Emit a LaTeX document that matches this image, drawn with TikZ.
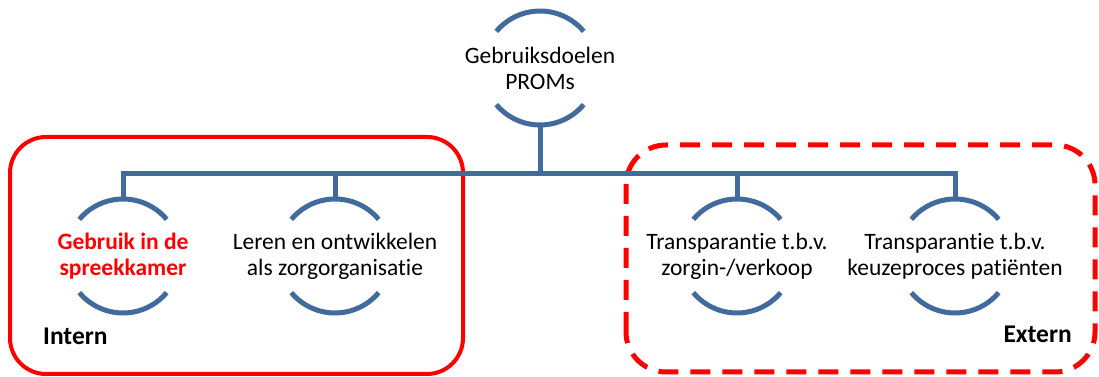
\documentclass[tikz,border=0pt]{standalone}
\usepackage{fontspec}
\setmainfont{Carlito}[RawFeature=-liga]
\definecolor{treeblue}{RGB}{65,106,157}
\definecolor{boxred}{RGB}{255,0,0}
\begin{document}
\begin{tikzpicture}[x=1pt,y=1pt,
  ring/.style={circle,minimum size=114pt,inner sep=0pt,outer sep=0pt,draw=none},
  arcline/.style={draw=treeblue,line width=5pt},
  treeline/.style={draw=treeblue,line width=5pt},
  lbl/.style={align=center,font=\fontsize{23.5}{26}\selectfont},
  grp/.style={font=\fontsize{25.5}{28}\selectfont\bfseries}]
\useasboundingbox (0,0) rectangle (1099,377);
% group boxes
\draw[boxred,line width=4pt,rounded corners=36pt] (10,3) rectangle (463,240);
\draw[boxred,line width=5pt,rounded corners=40pt,dash pattern=on 20pt off 12pt] (626,5) rectangle (1095,232);
% rings
\node[ring] (root) at (540,309) {};
\node[ring] (c1) at (123,121) {};
\node[ring] (c2) at (335,121) {};
\node[ring] (c3) at (737,121) {};
\node[ring] (c4) at (955,121) {};
\foreach \n in {root,c1,c2,c3,c4}{
  \draw[arcline] (\n.40) arc[start angle=40,end angle=140,radius=57pt];
  \draw[arcline] (\n.220) arc[start angle=220,end angle=320,radius=57pt];
}
% texts
\node[lbl] (troot) at (root) {Gebruiksdoelen\\PROMs};
\node[lbl,text=boxred,font=\fontsize{23.5}{26}\selectfont\bfseries] (t1) at (c1) {Gebruik in de\\spreekkamer};
\node[lbl] (t2) at (c2) {Leren en ontwikkelen\\als zorgorganisatie};
\node[lbl] (t3) at (c3) {Transparantie t.b.v.\\zorgin-/verkoop};
\node[lbl] (t4) at (c4) {Transparantie t.b.v.\\keuzeproces patiënten};
\node[grp,anchor=base west,inner sep=0pt] (intern) at (43,32) {Intern};
\node[grp,anchor=base east,inner sep=0pt] (extern) at (1072,34) {Extern};
% tree connectors
\coordinate (bar) at (0,203);
\draw[treeline] (root.south) -- (root.south |- bar);
\draw[treeline] (c1.north) -- (c1.north |- bar) -- (c4.north |- bar) -- (c4.north);
\draw[treeline] (c2.north) -- (c2.north |- bar);
\draw[treeline] (c3.north) -- (c3.north |- bar);
\end{tikzpicture}
\end{document}
